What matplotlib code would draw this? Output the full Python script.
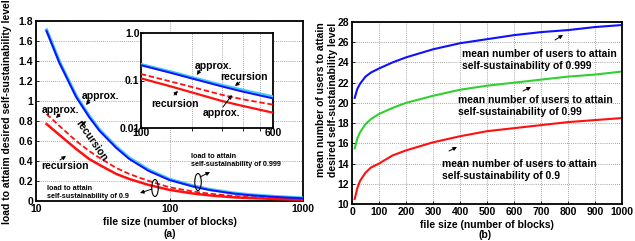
import matplotlib
matplotlib.use("Agg")
import matplotlib.pyplot as plt
from matplotlib.patches import Ellipse
from matplotlib.ticker import FixedLocator, NullFormatter, NullLocator

# ---------------- data ----------------
# panel (a): load vs file size (log x)
a_x = [12, 15, 20, 25, 30, 40, 50, 70, 100, 150, 200, 300, 400, 600, 800, 1000]
a_rec_999 = [1.70, 1.38, 1.04, 0.84, 0.70, 0.53, 0.42, 0.30, 0.21, 0.145, 0.11, 0.075, 0.058, 0.042, 0.033, 0.027]
a_app_999 = [1.71, 1.39, 1.05, 0.85, 0.71, 0.54, 0.43, 0.31, 0.216, 0.151, 0.115, 0.079, 0.062, 0.045, 0.036, 0.029]
a_rec_9 = [0.77, 0.66, 0.52, 0.42, 0.36, 0.27, 0.22, 0.16, 0.111, 0.075, 0.056, 0.037, 0.029, 0.021, 0.016, 0.013]
a_app_9 = [0.87, 0.75, 0.60, 0.50, 0.43, 0.33, 0.27, 0.20, 0.137, 0.095, 0.073, 0.050, 0.040, 0.031, 0.025, 0.021]

a_xticks = [10, 100, 1000]
a_xticklabels = ["10", "100", "1000"]
a_yticks = [0, 0.2, 0.4, 0.6, 0.8, 1.0, 1.2, 1.4, 1.6, 1.8]
a_yticklabels = ["0", "0.2", "0.4", "0.6", "0.8", "1", "1.2", "1.4", "1.6", "1.8"]

# panel (b): mean number of users vs file size (linear x)
b_x = [10, 20, 30, 50, 70, 100, 150, 200, 300, 400, 500, 600, 700, 800, 900, 1000]
b_999 = [20.5, 21.4, 21.9, 22.6, 23.0, 23.4, 24.0, 24.5, 25.3, 25.9, 26.3, 26.7, 27.0, 27.2, 27.5, 27.7]
b_99 = [15.5, 16.5, 17.1, 17.9, 18.4, 18.9, 19.5, 20.0, 20.7, 21.3, 21.7, 22.0, 22.3, 22.6, 22.8, 23.1]
b_9 = [10.5, 11.6, 12.3, 13.1, 13.6, 14.0, 14.8, 15.3, 16.1, 16.7, 17.2, 17.5, 17.8, 18.1, 18.3, 18.5]
b_xticks = list(range(0, 1001, 100))
b_yticks = list(range(10, 29, 2))

# ---------------- style ----------------
FAM = "Liberation Sans"
plt.rcParams["font.family"] = FAM
plt.rcParams["font.weight"] = "bold"
TICK_FS = 7.5
LAB_FS = 7.5
ANN_FS = 7.5
SMALL_FS = 5.2

BLUE = "#1010ff"
CYAN = "#40c8f0"
RED = "#ff1010"
GREEN = "#30d030"

W, H = 635, 241
fig = plt.figure(figsize=(W / 100, H / 100), dpi=100)


def fp(x, y):
    """pixel (from top-left) -> figure fraction"""
    return (x / W, 1 - y / H)


def rect(x0, y0, x1, y1):
    return [x0 / W, 1 - y1 / H, (x1 - x0) / W, (y1 - y0) / H]


grid_kw = dict(color="#888888", linestyle=(0, (1, 1.5)), linewidth=0.6)


def style_axes(ax, fs=TICK_FS):
    for s in ax.spines.values():
        s.set_linewidth(1.3)
    ax.tick_params(direction="in", labelsize=fs, length=2.5, width=0.6, pad=2)
    for lab in ax.get_xticklabels() + ax.get_yticklabels():
        lab.set_fontweight("bold")


# ---------------- panel (a) ----------------
axa = fig.add_axes(rect(36, 21, 303, 201))
axa.set_xscale("log")
axa.plot(a_x, a_app_999, color=CYAN, lw=2.4, zorder=3)
axa.plot(a_x, a_rec_999, color=BLUE, lw=1.4, zorder=4)
axa.plot(a_x, a_app_9, color=RED, lw=1.3, ls=(0, (3, 1.5)), zorder=3)
axa.plot(a_x, a_rec_9, color=RED, lw=1.8, zorder=3)
axa.set_xlim(10, 1000)
axa.set_ylim(0, 1.8)
axa.xaxis.set_major_locator(FixedLocator(a_xticks))
axa.set_xticklabels(a_xticklabels)
axa.xaxis.set_minor_locator(NullLocator())
axa.set_yticks(a_yticks)
axa.set_yticklabels(a_yticklabels)
axa.grid(True, which="major", **grid_kw)
style_axes(axa)
axa.set_xlabel("file size (number of blocks)", fontsize=LAB_FS, fontweight="bold", labelpad=2)
fig.text(*fp(7, 112), "load to attaim desired self-sustainability level", rotation=90,
         ha="center", va="center", fontsize=LAB_FS, fontweight="bold")
fig.text(*fp(170, 234), "(a)", ha="center", va="center", fontsize=LAB_FS, fontweight="bold")


def ann(text, txy, fs=ANN_FS, ha="left", rot=0):
    fig.text(*fp(*txy), text, ha=ha, va="center", fontsize=fs, fontweight="bold", rotation=rot,
             zorder=10)


def arr(p0, p1):
    fig.add_artist(matplotlib.patches.FancyArrowPatch(
        fp(*p0), fp(*p1), transform=fig.transFigure,
        arrowstyle="-|>,head_length=2.2,head_width=1.1", color="black", lw=0.7,
        shrinkA=0, shrinkB=0, zorder=10))


# main-panel labels
ann("approx.", (82, 96))
arr((90, 100), (86, 105))
ann("recursion", (91, 141), rot=-55, ha="center")
arr((82, 125), (86, 121))
ann("approx.", (42, 110))
arr((60, 114), (56, 118))
ann("recursion", (41, 166))
arr((60, 160), (66, 156))
ann("load to attain\nself-sustainability of 0.9", (47, 192), fs=SMALL_FS)
arr((152, 189), (140, 193))
ann("load to attain\nself-sustainability of 0.999", (191, 160), fs=SMALL_FS)
arr((200, 177), (210, 172))
for cx, cy in [(155, 188), (198, 182)]:
    fig.add_artist(Ellipse(fp(cx, cy), 6.5 / W, 17 / H, transform=fig.transFigure,
                           fill=False, edgecolor="black", lw=0.8, zorder=10))

# inset
axi = fig.add_axes(rect(141, 33, 273, 128))
axi.set_xscale("log")
axi.set_yscale("log")
axi.plot(a_x, a_app_999, color=CYAN, lw=2.4, zorder=3)
axi.plot(a_x, a_rec_999, color=BLUE, lw=1.4, zorder=4)
axi.plot(a_x, a_app_9, color=RED, lw=1.3, ls=(0, (3, 1.5)), zorder=3)
axi.plot(a_x, a_rec_9, color=RED, lw=1.6, zorder=3)
axi.set_xlim(100, 600)
axi.set_ylim(0.01, 1.0)
axi.xaxis.set_major_locator(FixedLocator([100, 600]))
axi.set_xticklabels(["100", "600"])
axi.xaxis.set_minor_locator(FixedLocator([200, 300, 400, 500]))
axi.xaxis.set_minor_formatter(NullFormatter())
axi.yaxis.set_major_locator(FixedLocator([0.01, 0.1, 1.0]))
axi.set_yticklabels(["0.01", "0.1", "1.0"])
axi.yaxis.set_minor_locator(NullLocator())
axi.grid(True, which="minor", axis="x", **grid_kw)
style_axes(axi)
axi.tick_params(axis="x", pad=0)
axi.tick_params(axis="y", pad=1)

ann("approx.", (195, 66))
arr((200, 70), (197, 75))
ann("recursion", (220, 77))
arr((240, 82), (235, 86))
ann("recursion", (151, 104))
arr((174, 95), (178, 91))
ann("approx.", (203, 113))
arr((223, 107), (232, 95))

# ---------------- panel (b) ----------------
axb = fig.add_axes(rect(352, 22, 622, 204))
axb.plot(b_x, b_999, color=BLUE, lw=1.5)
axb.plot(b_x, b_99, color=GREEN, lw=1.5)
axb.plot(b_x, b_9, color=RED, lw=1.5)
axb.set_xlim(0, 1000)
axb.set_ylim(10, 28)
axb.set_xticks(b_xticks)
axb.set_yticks(b_yticks)
axb.grid(True, **grid_kw)
style_axes(axb)
axb.set_xlabel("file size (number of blocks)", fontsize=LAB_FS, fontweight="bold", labelpad=2)
fig.text(*fp(327, 100), "mean number of users to attain\ndesired self-sustainability level",
         rotation=90, ha="center", va="center", fontsize=LAB_FS, fontweight="bold",
         multialignment="center")
fig.text(*fp(485, 235), "(b)", ha="center", va="center", fontsize=LAB_FS, fontweight="bold")

ann("mean number of users to attain\nself-sustainability of 0.999", (462, 60))
arr((555, 40), (563, 35))
ann("mean number of users to attain\nself-sustainability of 0.99", (458, 106))
arr((523, 91), (531, 87))
ann("mean number of users to attain\nself-sustainability of 0.9", (442, 170))
arr((449, 151), (457, 147))

fig.savefig("out.png", dpi=100)
